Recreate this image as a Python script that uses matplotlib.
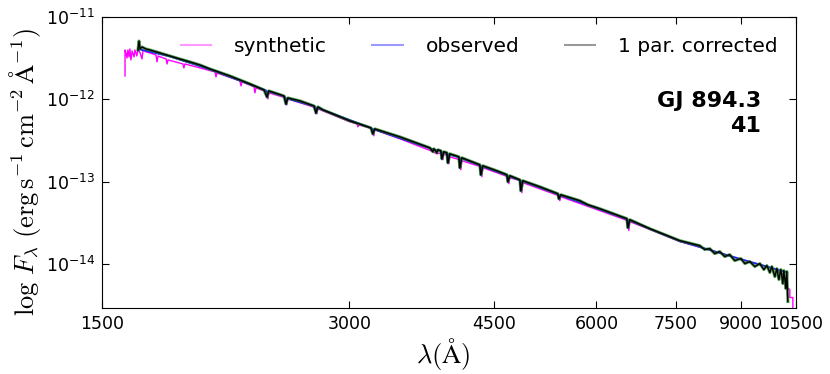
import matplotlib
matplotlib.use("Agg")
import matplotlib.pyplot as plt
from matplotlib.lines import Line2D
from matplotlib.ticker import FixedLocator, NullLocator, NullFormatter
import numpy as np

# spectra: wavelength [A], log10 flux [erg s-1 cm-2 A-1]
wl_synth = [1600, 1600, 1604, 1609, 1613, 1618, 1622, 1627, 1632, 1641, 1645, 1654,
            1659, 1669, 1678, 1683, 1697, 1716, 1745, 1750, 1755, 1795, 1800, 1805,
            1882, 1887, 1893, 1974, 2059, 2065, 2070, 2208, 2215, 2221, 2297, 2303,
            2310, 2382, 2389, 2395, 2512, 2519, 2526, 2733, 2740, 2748, 3006, 3066,
            3074, 3083, 3205, 3214, 3223, 3458, 3772, 3836, 3890, 3901, 3912, 3956,
            3967, 3978, 4091, 4103, 4114, 4339, 4352, 4364, 4681, 4694, 4707, 4854,
            4868, 4882, 5400, 5415, 5430, 6553, 6572, 6590, 6970, 7580, 8017, 8479,
            8997, 9489, 9896, 10178, 10235, 10321, 10321, 10409, 10409]
lf_synth = [-11.715, -11.400, -11.436, -11.497, -11.400, -11.485, -11.388, -11.521,
            -11.412, -11.485, -11.400, -11.473, -11.388, -11.436, -11.509, -11.400,
            -11.424, -11.436, -11.461, -11.545, -11.473, -11.509, -11.570, -11.521,
            -11.570, -11.618, -11.570, -11.618, -11.667, -11.727, -11.679, -11.776,
            -11.836, -11.788, -11.848, -11.921, -11.861, -11.909, -11.994, -11.921,
            -11.982, -12.067, -11.994, -12.103, -12.176, -12.115, -12.273, -12.297,
            -12.333, -12.309, -12.358, -12.442, -12.370, -12.479, -12.624, -12.661,
            -12.648, -12.733, -12.661, -12.685, -12.782, -12.697, -12.733, -12.855,
            -12.745, -12.818, -12.939, -12.830, -12.939, -13.024, -12.952, -12.988,
            -13.133, -13.012, -13.170, -13.230, -13.182, -13.473, -13.594, -13.485,
            -13.580, -13.727, -13.795, -13.862, -13.945, -14.005, -14.060, -14.140,
            -14.285, -14.309, -14.406, -14.406, -14.576]

wl_obs = [1669, 1815, 2030, 2271, 2375, 2382, 2389, 2505, 2512, 2519, 2725, 2733,
          2740, 3196, 3205, 3214, 3761, 3879, 3890, 3901, 3945, 3956, 3967, 4080,
          4091, 4103, 4327, 4339, 4352, 4668, 4681, 4694, 4841, 4854, 4868, 5385,
          5400, 5415, 6535, 6553, 6572, 7580, 8997, 10235]
lf_obs = [-11.394, -11.479, -11.636, -11.818, -11.890, -11.976, -11.900, -11.965,
          -12.060, -11.990, -12.085, -12.170, -12.100, -12.352, -12.424, -12.363,
          -12.594, -12.630, -12.727, -12.642, -12.654, -12.776, -12.667, -12.703,
          -12.836, -12.715, -12.800, -12.921, -12.812, -12.921, -13.006, -12.933,
          -12.982, -13.115, -12.990, -13.151, -13.212, -13.162, -13.454, -13.564,
          -13.467, -13.721, -13.940, -14.100]

wl_corr = [1659, 1664, 1669, 1678, 1697, 1716, 1765, 1815, 1866, 1920, 1974, 2030,
           2147, 2271, 2362, 2382, 2395, 2498, 2512, 2526, 2613, 2717, 2733, 2748,
           2787, 3006, 3187, 3205, 3223, 3458, 3761, 3793, 3804, 3836, 3847, 3879,
           3890, 3912, 3945, 3956, 3978, 4080, 4091, 4114, 4327, 4339, 4364, 4538,
           4668, 4681, 4707, 4841, 4854, 4882, 5120, 5385, 5400, 5430, 5727, 5857,
           6057, 6535, 6553, 6590, 6970, 7580, 8017, 8130, 8245, 8361, 8479, 8599,
           8720, 8843, 8997, 9098, 9226, 9356, 9489, 9596, 9677, 9759, 9813, 9896,
           9952, 10008, 10064, 10121, 10149, 10206, 10235, 10264]
lf_corr = [-11.400, -11.291, -11.388, -11.364, -11.388, -11.400, -11.436, -11.473,
           -11.509, -11.545, -11.582, -11.630, -11.715, -11.812, -11.885, -11.970,
           -11.897, -11.958, -12.055, -11.982, -12.018, -12.079, -12.164, -12.091,
           -12.127, -12.261, -12.345, -12.418, -12.358, -12.455, -12.588, -12.636,
           -12.600, -12.648, -12.612, -12.624, -12.721, -12.636, -12.648, -12.770,
           -12.661, -12.697, -12.830, -12.709, -12.794, -12.915, -12.806, -12.867,
           -12.915, -13.000, -12.927, -12.976, -13.109, -12.988, -13.061, -13.145,
           -13.206, -13.158, -13.230, -13.279, -13.327, -13.448, -13.558, -13.461,
           -13.570, -13.715, -13.776, -13.824, -13.812, -13.873, -13.848, -13.909,
           -13.885, -13.958, -13.933, -13.994, -13.970, -14.030, -13.994, -14.067,
           -14.018, -14.103, -14.030, -14.152, -14.055, -14.188, -14.067, -14.236,
           -14.079, -14.297, -14.091, -14.455]

xticks = [1500, 3000, 4500, 6000, 7500, 9000, 10500]
yticks = [1e-14, 1e-13, 1e-12, 1e-11]
star_name = "GJ 894.3"
star_id = "41"

plt.rcParams['axes.unicode_minus'] = False
fig = plt.figure(figsize=(8.3, 3.74), dpi=100)
ax = fig.add_axes([0.1229, 0.1765, 0.8361, 0.778])

ax.plot(wl_synth, 10 ** np.array(lf_synth), color='#ff00ff', lw=1.0)
ax.plot(wl_obs, 10 ** np.array(lf_obs), color='#2020ff', lw=1.3)
ax.plot(wl_corr, 10 ** np.array(lf_corr), color='#127a12', lw=2.2, alpha=0.7)
ax.plot(wl_corr, 10 ** np.array(lf_corr), color='black', lw=1.0)

ax.set_xscale('log')
ax.set_yscale('log')
ax.set_xlim(1500, 10500)
ax.set_ylim(2.93e-15, 1e-11)
ax.xaxis.set_major_locator(FixedLocator(xticks))
ax.set_xticklabels([str(t) for t in xticks])
ax.xaxis.set_minor_locator(NullLocator())
ax.xaxis.set_minor_formatter(NullFormatter())
ax.yaxis.set_major_locator(FixedLocator(yticks))
ax.yaxis.set_minor_locator(NullLocator())
ax.yaxis.set_minor_formatter(NullFormatter())
ax.tick_params(which='both', direction='in', top=True, right=True, length=5,
               labelsize=12.5, pad=5)

ax.set_xlabel(r'$\lambda(\mathrm{\AA})$', fontsize=19, math_fontfamily='cm')
ax.xaxis.set_label_coords(0.491, -0.095)
ax.set_ylabel(r'$\log\,F_\lambda\ (\mathrm{erg\,s^{-1}\,cm^{-2}\,\AA^{-1}})$',
              fontsize=19, math_fontfamily='cm')
ax.yaxis.set_label_coords(-0.085, 0.466)

handles = [Line2D([], [], color='#ff00ff', alpha=0.4, lw=1.5),
           Line2D([], [], color='#0000ff', alpha=0.4, lw=1.5),
           Line2D([], [], color='black', alpha=0.4, lw=1.5)]
ax.legend(handles, ['synthetic', 'observed', '1 par. corrected'], loc='upper right',
          ncol=3, frameon=False, fontsize=14.5, handlelength=1.5,
          handletextpad=1.15, columnspacing=2.25, bbox_to_anchor=(1.0, 0.995))

ax.text(0.9496, 0.745, star_name + "\n" + star_id, transform=ax.transAxes,
        ha='right', va='top', ma='right', fontsize=16, fontweight='bold',
        linespacing=1.3)

fig.savefig('out.png', dpi=100)
